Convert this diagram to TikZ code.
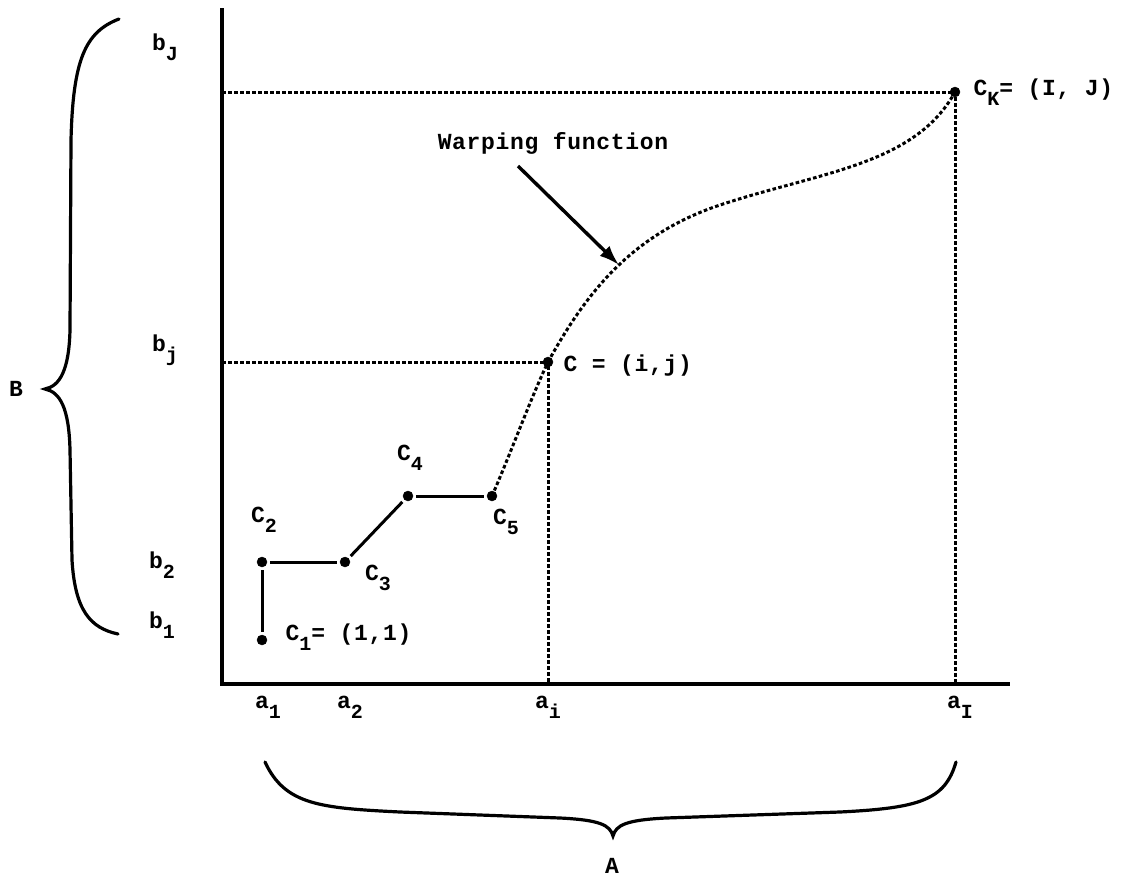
\documentclass[tikz,border=0pt]{standalone}
\usepackage{fontspec}
\setmainfont{Liberation Mono}[LetterSpace=3]
\usepackage{tikz}
\usetikzlibrary{arrows.meta}
\tikzset{
    warpdot/.style={shape=circle, draw=black, fill=black, inner sep=0pt, minimum size=10pt},
    warpline/.style={line width=3pt},
    dotline/.style={line width=3pt, dash pattern=on 3.6pt off 2.4pt},
    bracecurve/.style={line width=3.2pt, line cap=round},
    warparrow/.style={-{Latex[length=20pt,width=14pt]}, line width=3.4pt}
}
\newcommand{\lowidx}[1]{\raisebox{-0.42em}{\fontsize{20}{22}\selectfont #1}}

\begin{document}
\begin{tikzpicture}[x=1pt, y=-1pt, font=\fontsize{23}{26}\selectfont\bfseries]
    \useasboundingbox (0,0) rectangle (1127,881);

    % axes
    \coordinate (ytop) at (222,8);
    \coordinate (origin) at (222,684);
    \coordinate (xend) at (1010,684);
    \draw [line width=3.4pt] (ytop) -- (origin) -- (xend);

    % warping points
    \node[warpdot] (c1) at (262,640) {};
    \node[warpdot] (c2) at (262,562) {};
    \node[warpdot] (c3) at (345,562) {};
    \node[warpdot] (c4) at (408,496) {};
    \node[warpdot] (c5) at (492,496) {};
    \node[warpdot] (c) at (548,362) {};
    \node[warpdot] (ck) at (955,92) {};

    \node at (264,520) {C\lowidx{2}};
    \node at (378,578) {C\lowidx{3}};
    \node at (410,458) {C\lowidx{4}};
    \node at (506,522) {C\lowidx{5}};
    \node[anchor=west] at (282,637) {C\lowidx{1}= (1,1)};
    \node[anchor=west] at (560,366) {C = (i,j)};
    \node[anchor=west] at (970,92) {C\lowidx{K}= (I, J)};

    \path [warpline, shorten <=3pt, shorten >=3pt] (c1) edge (c2);
    \path [warpline, shorten <=3pt, shorten >=3pt] (c2) edge (c3);
    \path [warpline, shorten <=3pt, shorten >=3pt] (c3) edge (c4);
    \path [warpline, shorten <=3pt, shorten >=3pt] (c4) edge (c5);
    \draw [dotline] (c5.center) .. controls (512,450) and (530,400) .. (c.center);
    \draw [dotline] (c.center) .. controls (585,295) and (630,235) .. (720,205)
        .. controls (820,172) and (915,165) .. (ck.center);

    % projections onto the axes
    \coordinate (bjy) at (222,362);
    \coordinate (aix) at (548,684);
    \coordinate (bJy) at (222,92);
    \coordinate (aIx) at (955,684);
    \draw [dotline] (bjy) -- (c.center) -- (aix);
    \draw [dotline] (bJy) -- (ck.center) -- (aIx);

    % label arrow
    \node (warp) at (553,143) {Warping function};
    \coordinate (warptail) at (518,166);
    \coordinate (warptip) at (619,265);
    \draw [warparrow] (warptail) -- (warptip);

    % axis labels
    \node at (165,47) {b\lowidx{J}};
    \node at (165,350) {b\lowidx{j}};
    \node at (162,565) {b\lowidx{2}};
    \node at (162,625) {b\lowidx{1}};
    \node (a1) at (268,707) {a\lowidx{1}};
    \node (a2) at (350,707) {a\lowidx{2}};
    \node (ai) at (548,707) {a\lowidx{i}};
    \node (aI) at (960,707) {a\lowidx{I}};

    % braces
    \node (B) at (16,389) {B};
    \draw [bracecurve] (119,19) .. controls (85,32) and (73,60) .. (71,140)
        -- (70,330) .. controls (69,370) and (60,386) .. (45,389)
        .. controls (60,392) and (69,408) .. (70,450)
        -- (72,560) .. controls (75,610) and (90,628) .. (118,634);
    \node (A) at (612,866) {A};
    \draw [bracecurve] (265,762) .. controls (285,805) and (320,808) .. (400,812)
        -- (560,818) .. controls (600,820) and (610,825) .. (613,836)
        .. controls (616,825) and (626,820) .. (666,818)
        -- (840,812) .. controls (920,808) and (945,800) .. (956,762);
\end{tikzpicture}
\end{document}
